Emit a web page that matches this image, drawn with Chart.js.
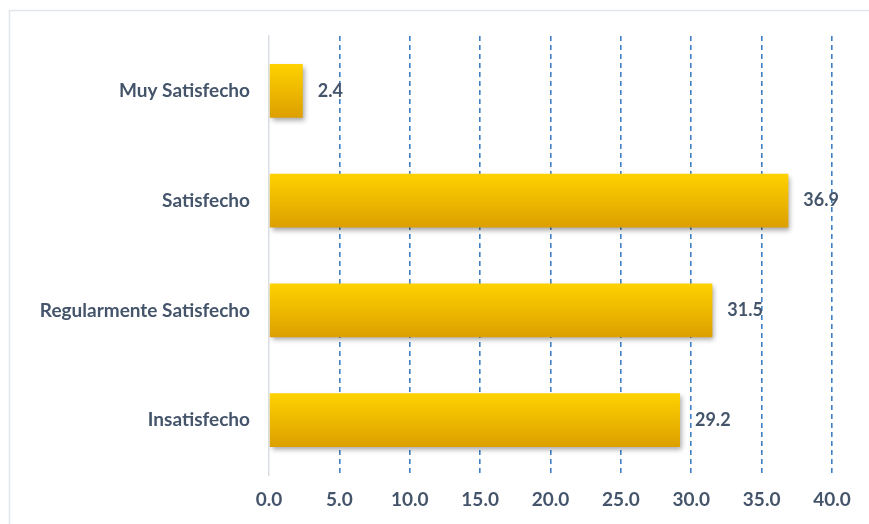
<!DOCTYPE html>
<html>
<head>
<meta charset="utf-8">
<script src="https://cdn.jsdelivr.net/npm/chart.js@4"></script>
<style>
    html, body { margin: 0; padding: 0; background: #fff; }
    #wrap { width: 869px; height: 524px; position: relative; }
</style>
</head>
<body>
<div id="wrap"><canvas id="myChart"></canvas></div>
<script>
const categories = ['Muy Satisfecho', 'Satisfecho', 'Regularmente Satisfecho', 'Insatisfecho'];
const values = [2.4, 36.9, 31.5, 29.2];
const xTicks = [0, 5, 10, 15, 20, 25, 30, 35, 40];

const textColor = '#44546a';
const fontFamily = 'Lato, "Open Sans", sans-serif';

// marco gris alrededor del gráfico
const framePlugin = {
    id: 'frame',
    beforeDraw(chart) {
        const ctx = chart.ctx;
        ctx.save();
        ctx.strokeStyle = '#e1e6ed';
        ctx.lineWidth = 1.5;
        ctx.strokeRect(9.5, 10.5, 900, 600);
        ctx.restore();
    }
};

// sombra de las barras
const shadowPlugin = {
    id: 'barShadow',
    beforeDatasetsDraw(chart) {
        const ctx = chart.ctx;
        ctx.save();
        ctx.shadowColor = 'rgba(0,0,0,0.35)';
        ctx.shadowBlur = 5;
        ctx.shadowOffsetX = 2;
        ctx.shadowOffsetY = 3;
    },
    afterDatasetsDraw(chart) {
        chart.ctx.restore();
    }
};

// etiquetas de valor al final de cada barra
const valueLabels = {
    id: 'valueLabels',
    afterDatasetsDraw(chart) {
        const ctx = chart.ctx;
        const meta = chart.getDatasetMeta(0);
        ctx.save();
        ctx.font = 'bold 18px ' + fontFamily;
        ctx.fillStyle = textColor;
        ctx.textAlign = 'left';
        ctx.textBaseline = 'middle';
        meta.data.forEach((bar, i) => {
            ctx.fillText(values[i].toFixed(1), bar.x + 15, bar.y);
        });
        ctx.restore();
    }
};

function barGradient(context) {
    const chart = context.chart;
    const yScale = chart.scales.y;
    if (!chart.chartArea || !yScale) {
        return '#f2b800';
    }
    const y = yScale.getPixelForValue(context.dataIndex);
    const half = 27;
    const g = chart.ctx.createLinearGradient(0, y - half, 0, y + half);
    g.addColorStop(0, '#ffd200');
    g.addColorStop(1, '#dc9f00');
    return g;
}

const ctx = document.getElementById('myChart');

new Chart(ctx, {
    type: 'bar',
    data: {
        labels: categories,
        datasets: [{
            data: values,
            backgroundColor: barGradient,
            borderWidth: 0,
            barPercentage: 0.49,
            categoryPercentage: 1
        }]
    },
    options: {
        indexAxis: 'y',
        responsive: true,
        maintainAspectRatio: false,
        animation: false,
        layout: {padding: {top: 36, right: 37, left: 0, bottom: 0}},
        plugins: {
            legend: {display: false},
            tooltip: {enabled: false}
        },
        scales: {
            x: {
                min: 0,
                max: 40,
                afterBuildTicks: scale => {
                    scale.ticks = xTicks.map(v => ({value: v}));
                },
                afterFit: scale => {
                    scale.height = 49;
                },
                border: {display: false, dash: [5, 4]},
                grid: {
                    drawTicks: false,
                    color: c => c.index === 0 ? 'rgba(0,0,0,0)' : '#3f80c4',
                    lineWidth: 1.6
                },
                ticks: {
                    padding: 13,
                    color: textColor,
                    font: {family: fontFamily, size: 19, weight: 'bold'},
                    callback: v => Number(v).toFixed(1)
                }
            },
            y: {
                afterFit: scale => {
                    scale.width = 269;
                },
                border: {display: true, color: '#d9dee5', width: 1.5},
                grid: {display: false, drawTicks: false},
                ticks: {
                    padding: 19,
                    color: textColor,
                    font: {family: fontFamily, size: 19, weight: 'bold'}
                }
            }
        }
    },
    plugins: [framePlugin, shadowPlugin, valueLabels]
});
</script>
</body>
</html>
